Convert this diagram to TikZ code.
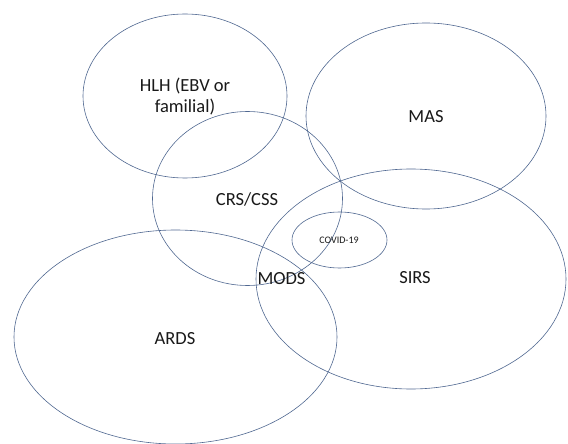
\documentclass[tikz,border=0pt]{standalone}
\usepackage{fontspec}
\setmainfont{Carlito}
\begin{document}
\begin{tikzpicture}[x=1pt,y=-1pt,
  ring/.style={draw=ringc,line width=0.6pt},
  lbl/.style={font=\fontsize{18.5}{21.5}\selectfont,align=center,inner sep=0pt,text=black!90}]
\definecolor{ringc}{RGB}{80,104,145}
\useasboundingbox[fill=white] (0,0) rectangle (568,444);
\draw[ring] (185,96) ellipse [x radius=102,y radius=82];
\draw[ring] (426,116) ellipse [x radius=120,y radius=93];
\draw[ring] (247.5,198.5) ellipse [x radius=95,y radius=87];
\draw[ring] (411,279) ellipse [x radius=155,y radius=110];
\draw[ring] (175.5,337) ellipse [x radius=161.5,y radius=107];
\draw[ring] (339.5,240) ellipse [x radius=47.5,y radius=28];
\node[lbl] (hlh) at (185,96.5) {HLH (EBV or\\familial)};
\node[lbl] (mas) at (426,117) {MAS};
\node[lbl] (crs) at (247,199) {CRS/CSS};
\node[lbl] (sirs) at (415,278) {SIRS};
\node[lbl] (ards) at (175,339) {ARDS};
\node[lbl] (mods) at (281.5,279) {MODS};
\node[lbl,font=\fontsize{10}{12}\selectfont] (covid) at (339,240) {COVID-19};
\end{tikzpicture}
\end{document}
